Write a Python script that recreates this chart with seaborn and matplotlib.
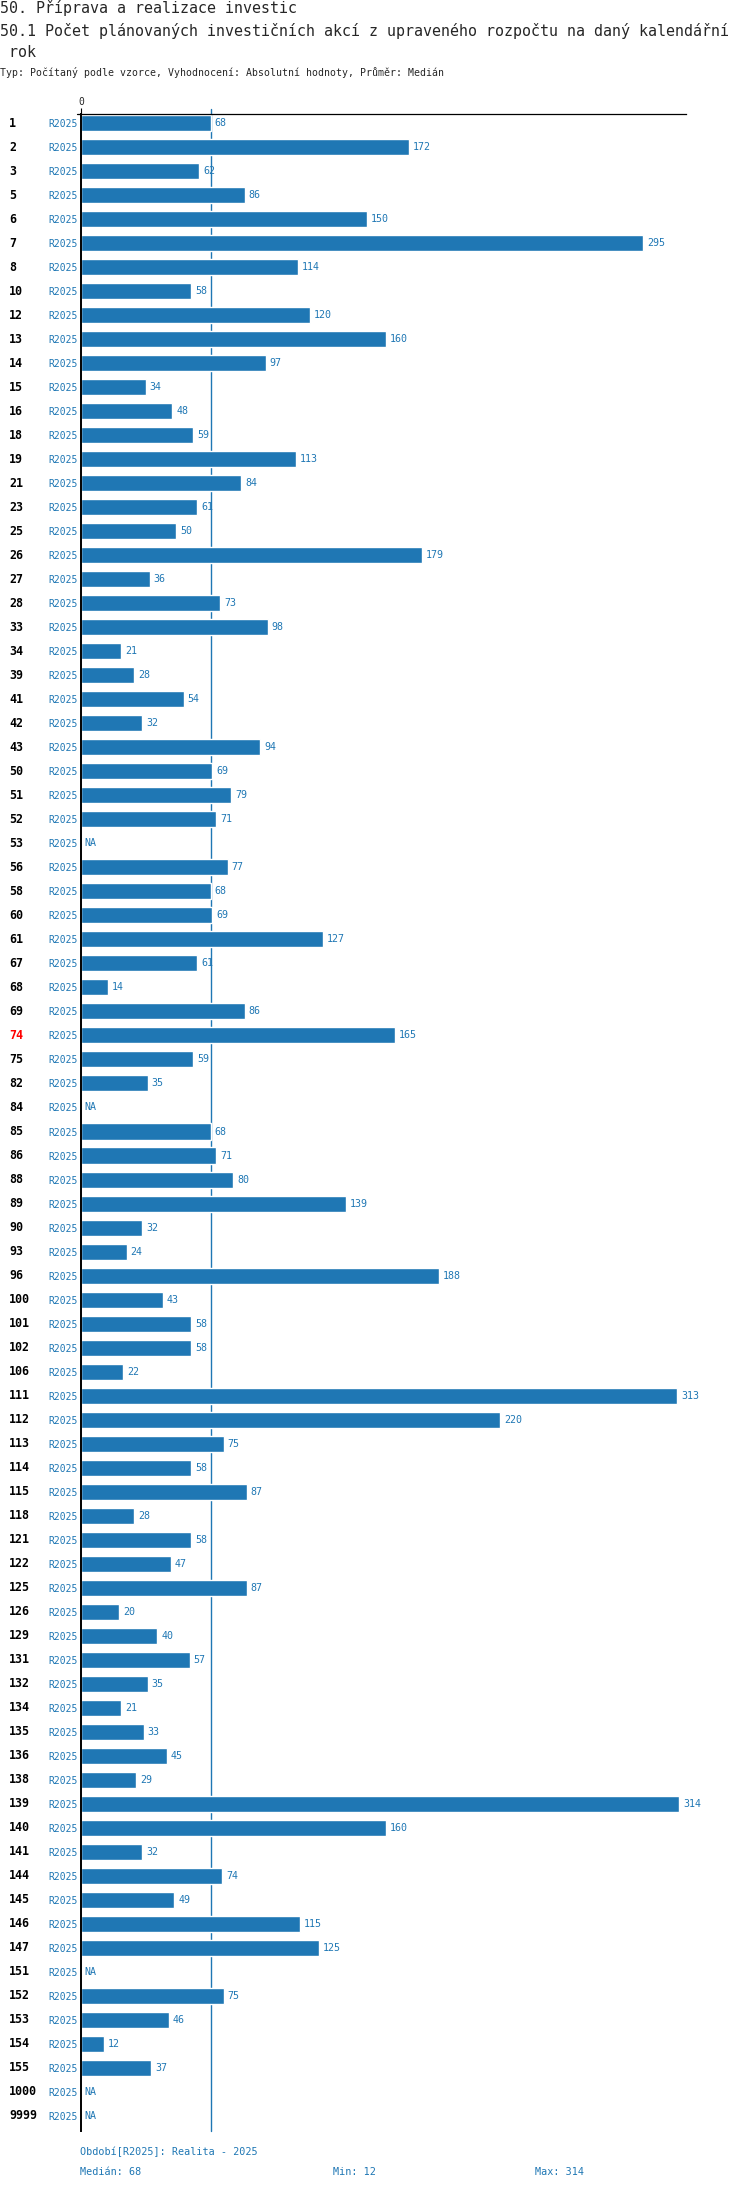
import numpy as np
import pandas as pd
import matplotlib
matplotlib.use("Agg")
import matplotlib.pyplot as plt
import matplotlib.transforms as mtransforms
from matplotlib.lines import Line2D
import seaborn as sns

# --- data ---
kody = ["1", "2", "3", "5", "6", "7", "8", "10", "12", "13",
        "14", "15", "16", "18", "19", "21", "23", "25", "26", "27",
        "28", "33", "34", "39", "41", "42", "43", "50", "51", "52",
        "53", "56", "58", "60", "61", "67", "68", "69", "74", "75",
        "82", "84", "85", "86", "88", "89", "90", "93", "96", "100",
        "101", "102", "106", "111", "112", "113", "114", "115", "118", "121",
        "122", "125", "126", "129", "131", "132", "134", "135", "136", "138",
        "139", "140", "141", "144", "145", "146", "147", "151", "152", "153",
        "154", "155", "1000", "9999"]
NA = np.nan
hodnoty = [68, 172, 62, 86, 150, 295, 114, 58, 120, 160,
           97, 34, 48, 59, 113, 84, 61, 50, 179, 36,
           73, 98, 21, 28, 54, 32, 94, 69, 79, 71,
           NA, 77, 68, 69, 127, 61, 14, 86, 165, 59,
           35, NA, 68, 71, 80, 139, 32, 24, 188, 43,
           58, 58, 22, 313, 220, 75, 58, 87, 28, 58,
           47, 87, 20, 40, 57, 35, 21, 33, 45, 29,
           314, 160, 32, 74, 49, 115, 125, NA, 75, 46,
           12, 37, NA, NA]
obdobi = "R2025"
zvyrazneny = "74"
median_val = 68
min_val = 12
max_val = 314

nadpis = "50. Příprava a realizace investic"
podnadpis = ["50.1 Počet plánovaných investičních akcí z upraveného rozpočtu na daný kalendářní",
             " rok"]
popis = "Typ: Počítaný podle vzorce, Vyhodnocení: Absolutní hodnoty, Průměr: Medián"

BLUE = "#1f77b4"
W, H = 750, 2190

sns.set_style("white")
plt.rcParams["font.family"] = ["DejaVu Sans Mono"]

df = pd.DataFrame({"kod": kody, "hodnota": hodnoty})
n = len(kody)

fig = plt.figure(figsize=(W / 100, H / 100), dpi=100)
ax_left, ax_right = 81 / W, 686 / W
ax_top, ax_bot = 114 / H, 2131 / H
ax = fig.add_axes([ax_left, 1 - ax_bot, ax_right - ax_left, ax_bot - ax_top])

sns.barplot(data=df, x="hodnota", y="kod", order=kody, orient="h",
            color=BLUE, saturation=1, width=0.667, ax=ax)

ax.set_xlim(0, 317.6)
ax.set_ylim(n - 1 + 0.64, -0.39)
# median line sits behind the bars, pokes a bit above the top axis
ax.axvline(median_val, ymin=0, ymax=1.0025, color=BLUE, lw=1, zorder=0, clip_on=False)

# axes / spines
for s in ["right", "bottom"]:
    ax.spines[s].set_visible(False)
ax.spines["left"].set_color("black")
ax.spines["left"].set_linewidth(1.4)
ax.spines["top"].set_color("black")
ax.spines["top"].set_linewidth(0.9)
ax.xaxis.tick_top()
ax.set_xticks([0])
ax.set_xticklabels(["0"], fontsize=7)
ax.tick_params(axis="x", length=4, width=0.8, pad=1, color="black")
ax.set_xlabel("")
ax.set_ylabel("")

# small stub of the top line left of the axis
fig.add_artist(Line2D([77 / W, 81 / W], [1 - ax_top, 1 - ax_top],
                      color="black", lw=0.9))

ax.set_yticks(range(n))
ax.set_yticklabels([obdobi] * n, fontsize=7, color=BLUE)
ax.tick_params(axis="y", length=0, pad=2.5)

# row codes on the far left
trans = mtransforms.blended_transform_factory(fig.transFigure, ax.transData)
for i, k in enumerate(kody):
    ax.text(9 / W, i, k, transform=trans, ha="left", va="center",
            fontsize=8.4, fontweight="bold",
            color="red" if k == zvyrazneny else "black")

# value labels
for i, v in enumerate(hodnoty):
    if np.isnan(v):
        ax.annotate("NA", (0, i), xytext=(2.5, 0), textcoords="offset points",
                    ha="left", va="center", fontsize=7.2, color=BLUE)
    else:
        ax.annotate(f"{v:g}", (v, i), xytext=(2.8, 0), textcoords="offset points",
                    ha="left", va="center", fontsize=7.2, color=BLUE)

# titles
fig.text(0, 1 - 7.5 / H, nadpis, fontsize=10.8, va="center", ha="left")
fig.text(0, 1 - 30.7 / H, podnadpis[0], fontsize=10.8, va="center", ha="left")
fig.text(0, 1 - 52.7 / H, podnadpis[1], fontsize=10.8, va="center", ha="left")
fig.text(0, 1 - 72.7 / H, popis, fontsize=7.1, va="center", ha="left")

# footer
fig.text(80 / W, 1 - 2152 / H, f"Období[{obdobi}]: Realita - 2025",
         fontsize=7.3, color=BLUE, va="center", ha="left")
fig.text(80 / W, 1 - 2172 / H, f"Medián: {median_val}",
         fontsize=7.3, color=BLUE, va="center", ha="left")
fig.text(333 / W, 1 - 2172 / H, f"Min: {min_val}",
         fontsize=7.3, color=BLUE, va="center", ha="left")
fig.text(535 / W, 1 - 2172 / H, f"Max: {max_val}",
         fontsize=7.3, color=BLUE, va="center", ha="left")

fig.savefig("out.png", dpi=100)
